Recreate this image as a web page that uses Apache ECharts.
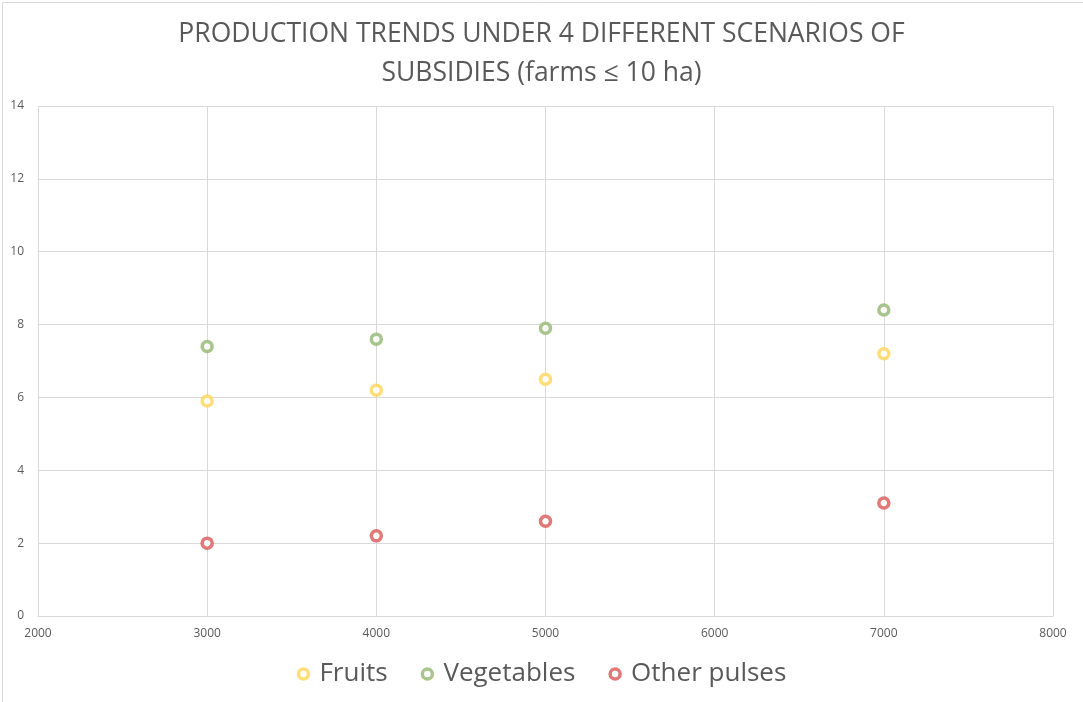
<!DOCTYPE html>
<html>
<head>
<meta charset="utf-8">
<script src="https://cdn.jsdelivr.net/npm/echarts@6/dist/echarts.min.js"></script>
<style>
  html, body { margin: 0; padding: 0; background: #fff; }
  #chart { width: 1083px; height: 702px; }
</style>
</head>
<body>
<div id="chart"></div>
<script>
// subsidy levels (x) and production per scenario
var subsidies = [3000, 4000, 5000, 7000];
var fruits = [5.9, 6.2, 6.5, 7.2];
var vegetables = [7.4, 7.6, 7.9, 8.4];
var otherPulses = [2.0, 2.2, 2.6, 3.1];
var seriesNames = ['Fruits', 'Vegetables', 'Other pulses'];
var seriesColors = ['#FFD558', '#93B672', '#DA5757'];

function pairs(xs, ys) {
    var out = [];
    for (var i = 0; i < xs.length; i++) {
        out.push([xs[i], ys[i]]);
    }
    return out;
}

var seriesValues = [fruits, vegetables, otherPulses];
var series = [];
var legendData = [];
for (var i = 0; i < seriesNames.length; i++) {
    series.push({
        name: seriesNames[i],
        type: 'scatter',
        symbol: 'circle',
        symbolSize: 10,
        data: pairs(subsidies, seriesValues[i]),
        itemStyle: {
            color: '#ffffff',
            borderColor: seriesColors[i],
            borderWidth: 3.5
        }
    });
    legendData.push({
        name: seriesNames[i],
        itemStyle: { color: '#ffffff', borderColor: seriesColors[i], borderWidth: 3.5 }
    });
}

var myChart = echarts.init(document.getElementById('chart'));
var option = {
    backgroundColor: '#ffffff',
    animation: false,
    title: {
        text: 'PRODUCTION TRENDS UNDER 4 DIFFERENT SCENARIOS OF\nSUBSIDIES (farms \u2264 10 ha)',
        left: 'center',
        top: 10,
        textStyle: {
            fontFamily: 'Open Sans',
            fontWeight: 'normal',
            fontSize: 26.5,
            lineHeight: 39,
            color: '#595959'
        }
    },
    legend: {
        data: legendData,
        bottom: 10,
        left: 'center',
        itemWidth: 10,
        itemHeight: 10,
        itemGap: 33,
        icon: 'circle',
        textStyle: {
            fontFamily: 'Open Sans',
            fontSize: 26,
            color: '#595959',
            padding: [0, 0, 0, 6]
        }
    },
    graphic: [{
        type: 'rect',
        shape: { x: 2.5, y: 2.5, width: 1200, height: 800 },
        style: { fill: 'none', stroke: '#d9d9d9', lineWidth: 1 },
        silent: true
    }],
    grid: {
        left: 38,
        right: 30,
        top: 106,
        bottom: 86
    },
    xAxis: {
        type: 'value',
        min: 2000,
        max: 8000,
        interval: 1000,
        axisLine: { show: true, lineStyle: { color: '#d9d9d9' } },
        axisTick: { show: false },
        splitLine: { show: true, lineStyle: { color: '#d9d9d9' } },
        axisLabel: {
            color: '#595959', fontSize: 12, margin: 12, fontFamily: 'Open Sans',
            formatter: function (v) { return String(v); }
        }
    },
    yAxis: {
        type: 'value',
        min: 0,
        max: 14,
        interval: 2,
        axisLine: { show: false },
        axisTick: { show: false },
        splitLine: { show: true, lineStyle: { color: '#d9d9d9' } },
        axisLabel: { color: '#595959', fontSize: 12, margin: 14, fontFamily: 'Open Sans' }
    },
    series: series
};
myChart.setOption(option);
</script>
</body>
</html>
